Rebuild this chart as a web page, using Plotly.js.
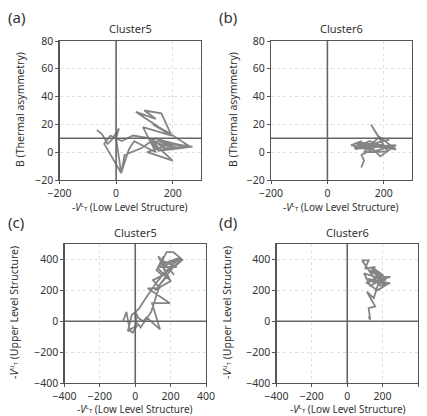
<!DOCTYPE html>
<html><head><meta charset="utf-8">
<script src="https://cdn.plot.ly/plotly-3.0.1.min.js"></script>
<style>html,body{margin:0;padding:0;background:#fff}#chart{width:427px;height:416px}</style>
</head><body><div id="chart"></div>
<script>
// Cluster5 trajectory: low-level structure, thermal asymmetry B, upper-level structure
const c5LowLevel = [-68,-50,-30,-15,10,0,18,45,64,140,95,196,70,140,100,160,196,130,177,215,262,140,234,150,200,160,220,130,200,110,180,150,250,170,120,60,20,-20,-42,18,30,90,140,200,240,270,230,150,120,160];
const c5B        = [16,13,6,9,17,10,-15,2,8,0,18,12,29,24,30,28,12,20,15,10,4,8,5,6,4,2,3,7,-6,0,5,9,4,3,10,12,8,12,6,-15,-2,3,10,6,5,4,3,1,8,5];
const c5Upper    = [4,60,-60,-74,-30,64,20,0,26,-53,117,117,213,213,266,300,266,340,447,447,404,351,351,394,330,380,300,420,260,200,290,370,410,320,250,150,80,40,-65,-20,-40,60,240,330,380,400,360,300,330,420];
// Cluster6 trajectory
const c6LowLevel = [120,130,121,158,111,150,187,243,160,102,243,185,140,84,121,100,158,130,214,155,191,220,120,226,170,110,200,140,180,130,95,150,205,175,130];
const c6B        = [-11,-6,-2,2,3,5,-3,5,4,6,2,11,3,5,8,2,6,0,0.5,19.7,7.7,9,4,4,1,7,5,2,6,5,3,8,3,4,6];
const c6Upper    = [30,10,85,96,191,150,287,287,260,277,245,230,300,394,394,340,351,320,280,330,250,270,260,240,200,250,300,350,260,230,310,290,260,300,330];

const clusters = ["Cluster5","Cluster6"];
const panelLabels = ["(a)","(b)","(c)","(d)"];
const xTitle = "-<i>V</i><sup><span style='font-size:6px'>L</span></sup><span style='font-size:6px'>T</span> (Low Level Structure)";
const yTitleTop = "B (Thermal asymmetry)";
const yTitleBottom = "-<i>V</i><sup><span style='font-size:6px'>U</span></sup><span style='font-size:6px'>T</span> (Upper Level Structure)";

const lineStyle = {color:"rgba(120,120,120,0.9)", width:1.8};
const fam = "Noto Sans, DejaVu Sans, sans-serif";
const font = {family:fam, size:11, color:"#333"};

const traces = [
  {x:c5LowLevel, y:c5B, xaxis:"x", yaxis:"y", mode:"lines", line:lineStyle, hoverinfo:"skip"},
  {x:c6LowLevel, y:c6B, xaxis:"x2", yaxis:"y2", mode:"lines", line:lineStyle, hoverinfo:"skip"},
  {x:c5LowLevel, y:c5Upper, xaxis:"x3", yaxis:"y3", mode:"lines", line:lineStyle, hoverinfo:"skip"},
  {x:c6LowLevel, y:c6Upper, xaxis:"x4", yaxis:"y4", mode:"lines", line:lineStyle, hoverinfo:"skip"}
];

function ax(domain, range, dtick, anchor){
  return {domain:domain, range:range, dtick:dtick, anchor:anchor,
    showline:true, mirror:true, linecolor:"#555", linewidth:1.2,
    ticks:"outside", ticklen:3, tickcolor:"#555", tickwidth:1,
    showgrid:true, gridcolor:"#d8d8d8", griddash:"dot", gridwidth:0.8,
    zeroline:false, tickfont:{family:fam,size:10.5,color:"#333"}};
}

const W=427,H=416;
const dx = (a,b)=>[a/W,b/W];
const dy = (top,bot)=>[1-bot/H,1-top/H];

const layout = {
  width:W, height:H, margin:{l:0,r:0,t:0,b:0}, showlegend:false,
  paper_bgcolor:"#fff", plot_bgcolor:"#fff", font:font,
  xaxis: ax(dx(59.5,201), [-200,300], 200, "y"),
  yaxis: ax(dy(41,180), [-20,80], 20, "x"),
  xaxis2: ax(dx(271,412), [-200,300], 200, "y2"),
  yaxis2: ax(dy(41,180), [-20,80], 20, "x2"),
  xaxis3: ax(dx(64.5,206), [-400,400], 200, "y3"),
  yaxis3: ax(dy(244,383), [-400,500], 200, "x3"),
  xaxis4: ax(dx(276.5,418), [-400,400], 200, "y4"),
  yaxis4: ax(dy(244,383), [-400,500], 200, "x4"),
  shapes: [],
  annotations: []
};
const refs = [["x","y",10],["x2","y2",10],["x3","y3",0],["x4","y4",0]];
refs.forEach(([xr,yr,h])=>{
  layout.shapes.push({type:"line", xref:xr, yref:yr+" domain", x0:0, x1:0, y0:0, y1:1, line:{color:"#666",width:1.6}});
  layout.shapes.push({type:"line", xref:xr+" domain", yref:yr, x0:0, x1:1, y0:h, y1:h, line:{color:"#666",width:1.6}});
});
function ann(text, px, py, size, angle){
  layout.annotations.push({text:text, xref:"paper", yref:"paper", x:px/W, y:1-py/H, showarrow:false,
    xanchor:"center", yanchor:"middle", textangle:angle||0, font:{family:fam,size:size,color:"#333"}});
}
const titlePos = [[130,29],[341,29],[135,232],[347,232]];
titlePos.forEach(([px,py],i)=>ann(clusters[i%2], px, py, 11));
const labelPos = [[16,17],[228,17],[16,222],[228,222]];
labelPos.forEach(([px,py],i)=>ann(panelLabels[i], px, py, 15));
const xTitlePos = [[130,207],[341,207],[135,409],[348,409]];
xTitlePos.forEach(([px,py])=>ann(xTitle, px, py, 10));
const yTitlePos = [[20,110],[233,110],[14,313],[227,313]];
yTitlePos.forEach(([px,py],i)=>ann(i<2?yTitleTop:yTitleBottom, px, py, 10.5, -90));
Plotly.newPlot("chart", traces, layout, {staticPlot:true, displayModeBar:false});
</script></body></html>
